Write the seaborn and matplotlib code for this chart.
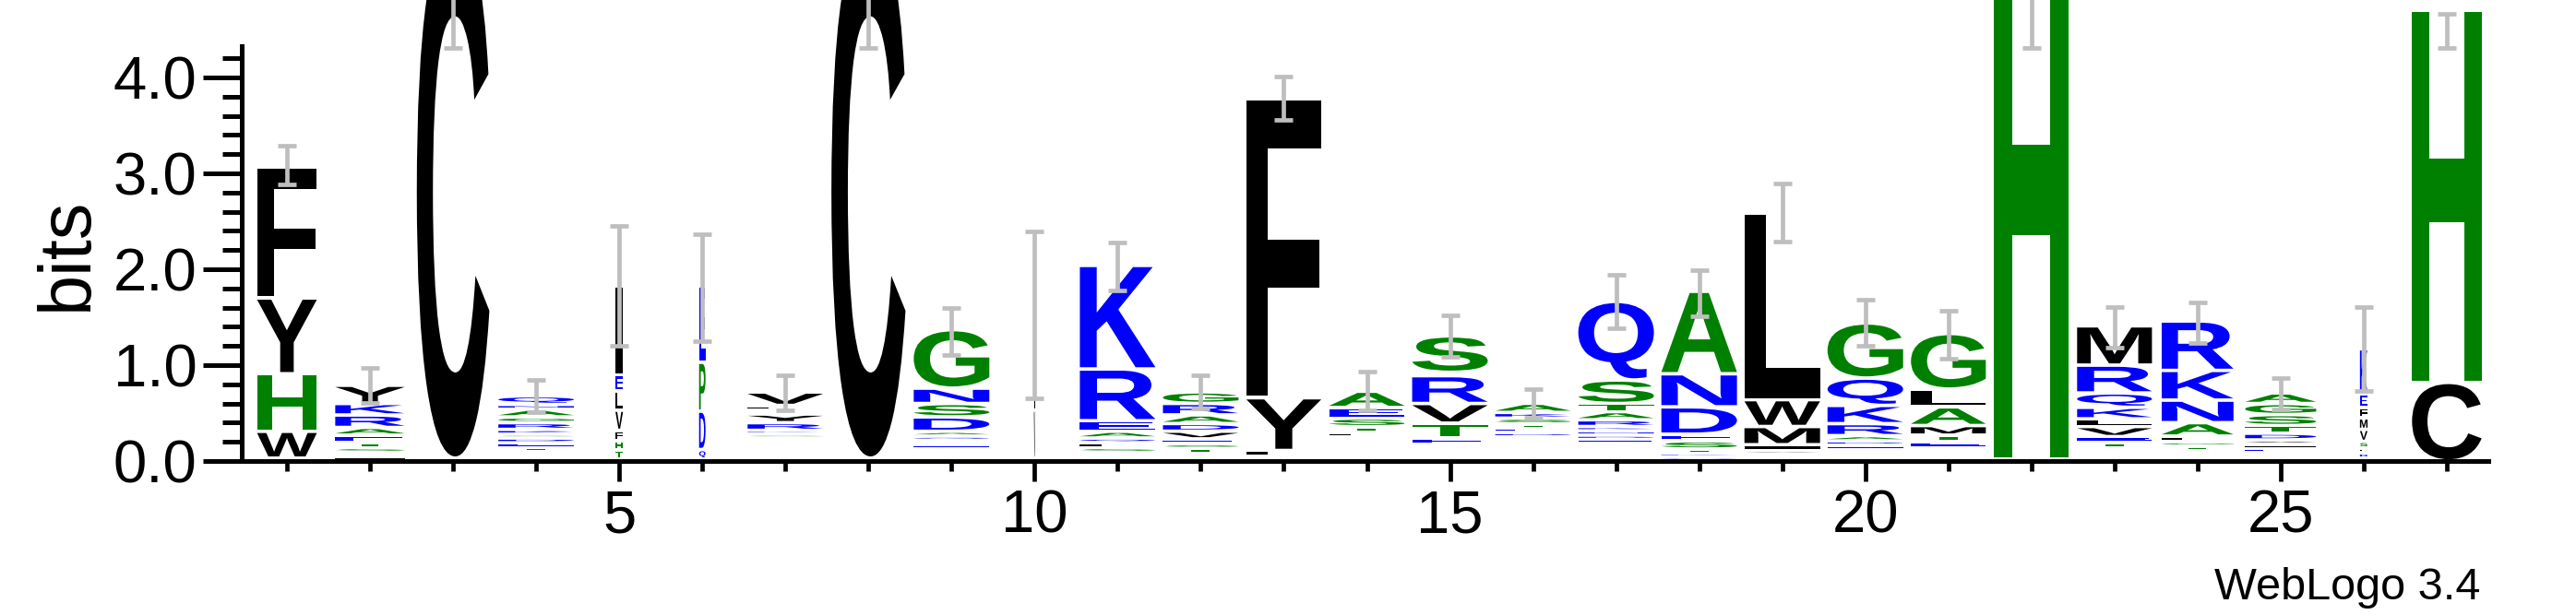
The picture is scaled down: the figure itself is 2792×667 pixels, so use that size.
import matplotlib
matplotlib.use('Agg')
import matplotlib.pyplot as plt
import seaborn as sns
from matplotlib.textpath import TextPath
from matplotlib.patches import PathPatch
from matplotlib.transforms import Affine2D
from matplotlib.font_manager import FontProperties
from matplotlib.ticker import MultipleLocator, FormatStrFormatter

# Data: letters bottom -> top, heights in bits
# ======================================================================================
positions = list(range(1, 28))

stack_letters = [
    "LWHYF", "IFSTEARKY", "AC", "PHCTEDSKRGANQ", "MTHFVLEI", "AQDPE",
    "DEQNTAGHSKRYILV", "AC", "HKMPETQADSNG", "AVI", "HTDSFQAERK",
    "PHCTSEVDARG", "AELYF", "DGKRPNQHLTSEA", "ADGQNETVRKS",
    "LVIFMCHDETSKA", "LVIHPEDNKRATSQ", "QKTSEDNA", "ASVIMWL",
    "MLVSEDARKQG", "QKDSETMALG", "AH", "ADGSTEVLKQRM", "DQETGLANKR",
    "KRQEIVDTSGA", "ADLSVMFEK", "CH",
]

stack_heights = [
    [0.03, 0.28, 0.60, 0.79, 1.37],
    [0.05, 0.04, 0.05, 0.05, 0.08, 0.08, 0.13, 0.12, 0.19],
    [0.03, 5.50],
    [0.034, 0.033, 0.033, 0.04, 0.05, 0.05, 0.04, 0.05, 0.07, 0.06, 0.08, 0.05, 0.09],
    [0.02, 0.095, 0.095, 0.11, 0.21, 0.20, 0.17, 0.93],
    [0.02, 0.10, 0.40, 0.51, 0.80],
    [0.03, 0.03, 0.03, 0.03, 0.03, 0.03, 0.03, 0.03, 0.04, 0.04, 0.08, 0.09, 0.04, 0.05, 0.14],
    [0.03, 5.50],
    [0.0325, 0.0325, 0.0325, 0.0325, 0.045, 0.04, 0.045, 0.05, 0.15, 0.14, 0.16, 0.61],
    [0.03, 0.50, 0.99],
    [0.03, 0.03, 0.03, 0.05, 0.05, 0.05, 0.07, 0.11, 0.54, 1.08],
    [0.027, 0.027, 0.027, 0.05, 0.05, 0.05, 0.08, 0.08, 0.09, 0.12, 0.12],
    [0.025, 0.025, 0.06, 0.55, 3.12],
    [0.031, 0.031, 0.031, 0.031, 0.031, 0.031, 0.031, 0.031, 0.05, 0.06, 0.09, 0.11, 0.17],
    [0.034, 0.034, 0.034, 0.034, 0.034, 0.07, 0.155, 0.205, 0.29, 0.035, 0.38],
    [0.036, 0.036, 0.036, 0.036, 0.036, 0.036, 0.036, 0.045, 0.045, 0.045, 0.06, 0.06, 0.095],
    [0.036, 0.036, 0.036, 0.036, 0.036, 0.045, 0.045, 0.045, 0.045, 0.07, 0.085, 0.085, 0.245, 0.82],
    [0.04, 0.04, 0.045, 0.085, 0.07, 0.285, 0.345, 0.86],
    [0.035, 0.035, 0.04, 0.06, 0.19, 0.28, 1.95],
    [0.03, 0.03, 0.03, 0.03, 0.045, 0.045, 0.055, 0.125, 0.19, 0.285, 0.575],
    [0.035, 0.035, 0.035, 0.035, 0.06, 0.07, 0.10, 0.195, 0.185, 0.58],
    [0.02, 5.45],
    [0.035, 0.035, 0.035, 0.035, 0.055, 0.06, 0.105, 0.08, 0.12, 0.15, 0.29, 0.41],
    [0.0367, 0.0367, 0.0367, 0.045, 0.045, 0.06, 0.14, 0.235, 0.31, 0.515],
    [0.03, 0.03, 0.03, 0.04, 0.045, 0.045, 0.07, 0.08, 0.115, 0.115, 0.11],
    [0.03, 0.055, 0.05, 0.07, 0.125, 0.12, 0.11, 0.14, 0.47],
    [0.82, 3.88],
]

# fraction of non-gap sequences (stack width)
occupancy = [0.79, 0.92, 0.96, 1.0, 0.10, 0.085, 1.0, 0.98, 1.0, 0.018, 1.0, 1.0, 0.99,
             1.0, 1.0, 1.0, 1.0, 1.0, 1.0, 1.0, 0.99, 0.99, 0.99, 0.95, 0.94, 0.10, 0.92]

err_lo = [2.88, 0.61, 4.31, 0.51, 1.20, 1.25, 0.53, 4.31, 1.11, 0.65, 1.78, 0.55, 3.56,
          0.53, 1.09, 0.45, 1.38, 1.51, 2.29, 1.20, 1.07, 4.31, 1.18, 1.23, 0.535, 0.73, 4.31]
err_hi = [3.29, 0.97, 7.00, 0.85, 2.45, 2.37, 0.89, 7.00, 1.60, 2.39, 2.28, 0.89, 4.01,
          0.93, 1.52, 0.75, 1.94, 1.99, 2.89, 1.68, 1.57, 7.00, 1.61, 1.65, 0.865, 1.61, 4.66]

# Style
# ======================================================================================
sns.set_style('ticks', {'axes.edgecolor': 'black', 'xtick.color': 'black',
                        'ytick.color': 'black', 'text.color': 'black',
                        'axes.labelcolor': 'black'})
plt.rcParams['font.family'] = ['Liberation Sans', 'DejaVu Sans']

glyph_font = FontProperties(family='Liberation Sans', weight='bold')
FULL_WIDTH = 0.91
PAD = 0.018


def letter_color(ch):
    # WebLogo "hydrophobicity" scheme
    if ch in 'RKDENQ':
        return '#0000ff'
    if ch in 'SGHTAP':
        return '#008000'
    return '#000000'


def draw_letter(ax, ch, x, y0, h, w):
    gh = h - 2 * PAD
    if gh <= 0.002:
        return
    path = TextPath((0, 0), ch, size=1, prop=glyph_font)
    ext = path.get_extents()
    t = (Affine2D().translate(-ext.x0, -ext.y0)
         .scale(w / ext.width, gh / ext.height)
         .translate(x - w / 2, y0 + PAD))
    ax.add_patch(PathPatch(t.transform_path(path), facecolor=letter_color(ch),
                           edgecolor='none', clip_on=False, zorder=3))


fig = plt.figure(figsize=(27.92, 6.67), dpi=100)
ax = fig.add_axes([266 / 2792, 167 / 667, 2431 / 2792, 450 / 667])

for pos, letters, hs, occ in zip(positions, stack_letters, stack_heights, occupancy):
    y = 0.0
    for ch, h in zip(letters, hs):
        draw_letter(ax, ch, pos, y, h, FULL_WIDTH * occ)
        y += h

centers = [(lo + hi) / 2 for lo, hi in zip(err_lo, err_hi)]
halves = [(hi - lo) / 2 for lo, hi in zip(err_lo, err_hi)]
eb = ax.errorbar(positions, centers, yerr=halves, fmt='none', ecolor='#bebebe',
                 elinewidth=3.4, capsize=7.5, capthick=3.4, zorder=5)
for cap in eb.lines[1]:
    cap.set_clip_on(False)
for col in eb.lines[2]:
    col.set_clip_on(False)

ax.set_xlim(0.5, 27.5)
ax.set_ylim(0, 4.327)
ax.xaxis.set_major_locator(MultipleLocator(5))
ax.xaxis.set_minor_locator(MultipleLocator(1))
ax.yaxis.set_major_locator(MultipleLocator(1))
ax.yaxis.set_minor_locator(MultipleLocator(0.2))
ax.yaxis.set_major_formatter(FormatStrFormatter('%.1f'))

sns.despine(ax=ax)
ax.spines['left'].set_position(('outward', 2.9))
for side in ['left', 'bottom']:
    ax.spines[side].set_linewidth(3.6)

ax.tick_params(axis='y', which='major', length=30, width=3.6, pad=5, labelsize=47)
ax.tick_params(axis='y', which='minor', length=15, width=3.6)
ax.tick_params(axis='x', which='major', length=16, width=3.4, pad=6, labelsize=47)
ax.tick_params(axis='x', which='minor', length=8, width=3.4)

fig.text(73 / 2792, 1 - 275 / 667, 'bits', rotation=90, ha='center', va='center',
         fontsize=57)
fig.text(2688 / 2792, 17 / 667, 'WebLogo 3.4', ha='right', va='baseline', fontsize=35)

fig.savefig('out.png', dpi=100)
